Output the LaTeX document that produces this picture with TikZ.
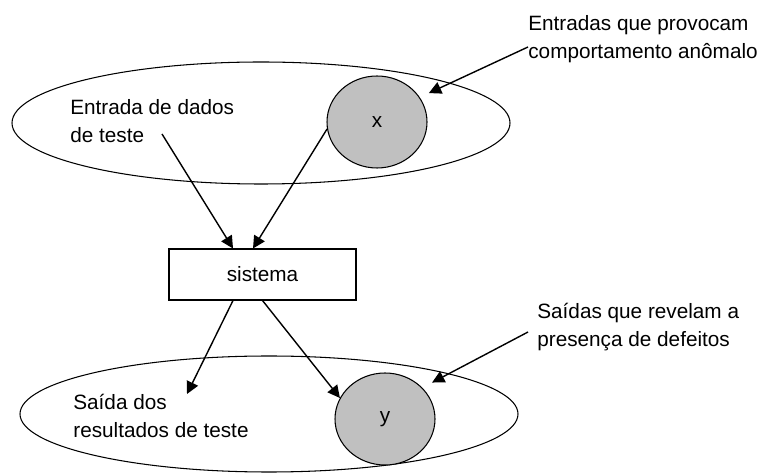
\documentclass[tikz,border=0pt]{standalone}
\usepackage{fontspec}
\setmainfont{Liberation Sans}
\usepackage{tikz}
\usetikzlibrary{arrows.meta, shapes, positioning}
\definecolor{setgray}{RGB}{192,192,192}
\tikzstyle{setring} = [draw, ellipse, line width=0.6pt, inner sep=0pt]
\tikzstyle{subset} = [draw, ellipse, fill=setgray, line width=0.6pt, inner sep=0pt, minimum width=2cm, minimum height=1.84cm]
\tikzstyle{flow} = [-{Triangle[length=7pt,width=7pt]}, line width=0.8pt]
\tikzstyle{txt} = [align=left, inner sep=0pt, anchor=west]

\begin{document}
\begin{tikzpicture}[font=\fontsize{11.8}{15.8}\selectfont]
			\useasboundingbox (0, 0) rectangle (15.3, -9.48);

			\node (Inputs) [setring, minimum width=9.96cm, minimum height=2.44cm] at (5.22, -2.46) {};
			\node (X) [subset] at (7.54, -2.44) {x};
			\node (InText) [txt] at (1.4, -2.42) {Entrada de dados\\de teste};
			\node (BadIn) [txt] at (10.56, -0.78) {Entradas que provocam\\comportamento anômalo};

			\node (Sys) [draw, line width=0.6pt, inner xsep=0pt, minimum width=3.74cm, minimum height=1.02cm] at (5.25, -5.49) {sistema\hspace{0.68cm}};

			\node (Outputs) [setring, minimum width=9.96cm, minimum height=2.32cm] at (5.38, -8.28) {};
			\node (Y) [subset] at (7.7, -8.38) {y};
			\node (OutText) [txt] at (1.46, -8.32) {Saída dos\\resultados de teste};
			\node (BadOut) [txt] at (10.74, -6.54) {Saídas que revelam a\\presença de defeitos};

			\coordinate (InTail) at (3.24, -2.68);
			\coordinate (OutHead) at (3.74, -7.88);

			\draw [flow] (InTail) -- ([xshift=-0.59cm]Sys.north);
			\draw [flow] (X.188) -- ([xshift=-0.19cm]Sys.north);
			\draw [flow] ([xshift=-0.59cm]Sys.south) -- (OutHead);
			\draw [flow] (Sys.south) -- (Y.155);

			\draw [flow, shorten >=0.2cm] ([yshift=-0.16cm]BadIn.west) -- (X.30);
			\draw [flow, shorten >=0.22cm] ([xshift=-0.18cm, yshift=-0.1cm]BadOut.west) -- (Y.40);
		\end{tikzpicture}
\end{document}
